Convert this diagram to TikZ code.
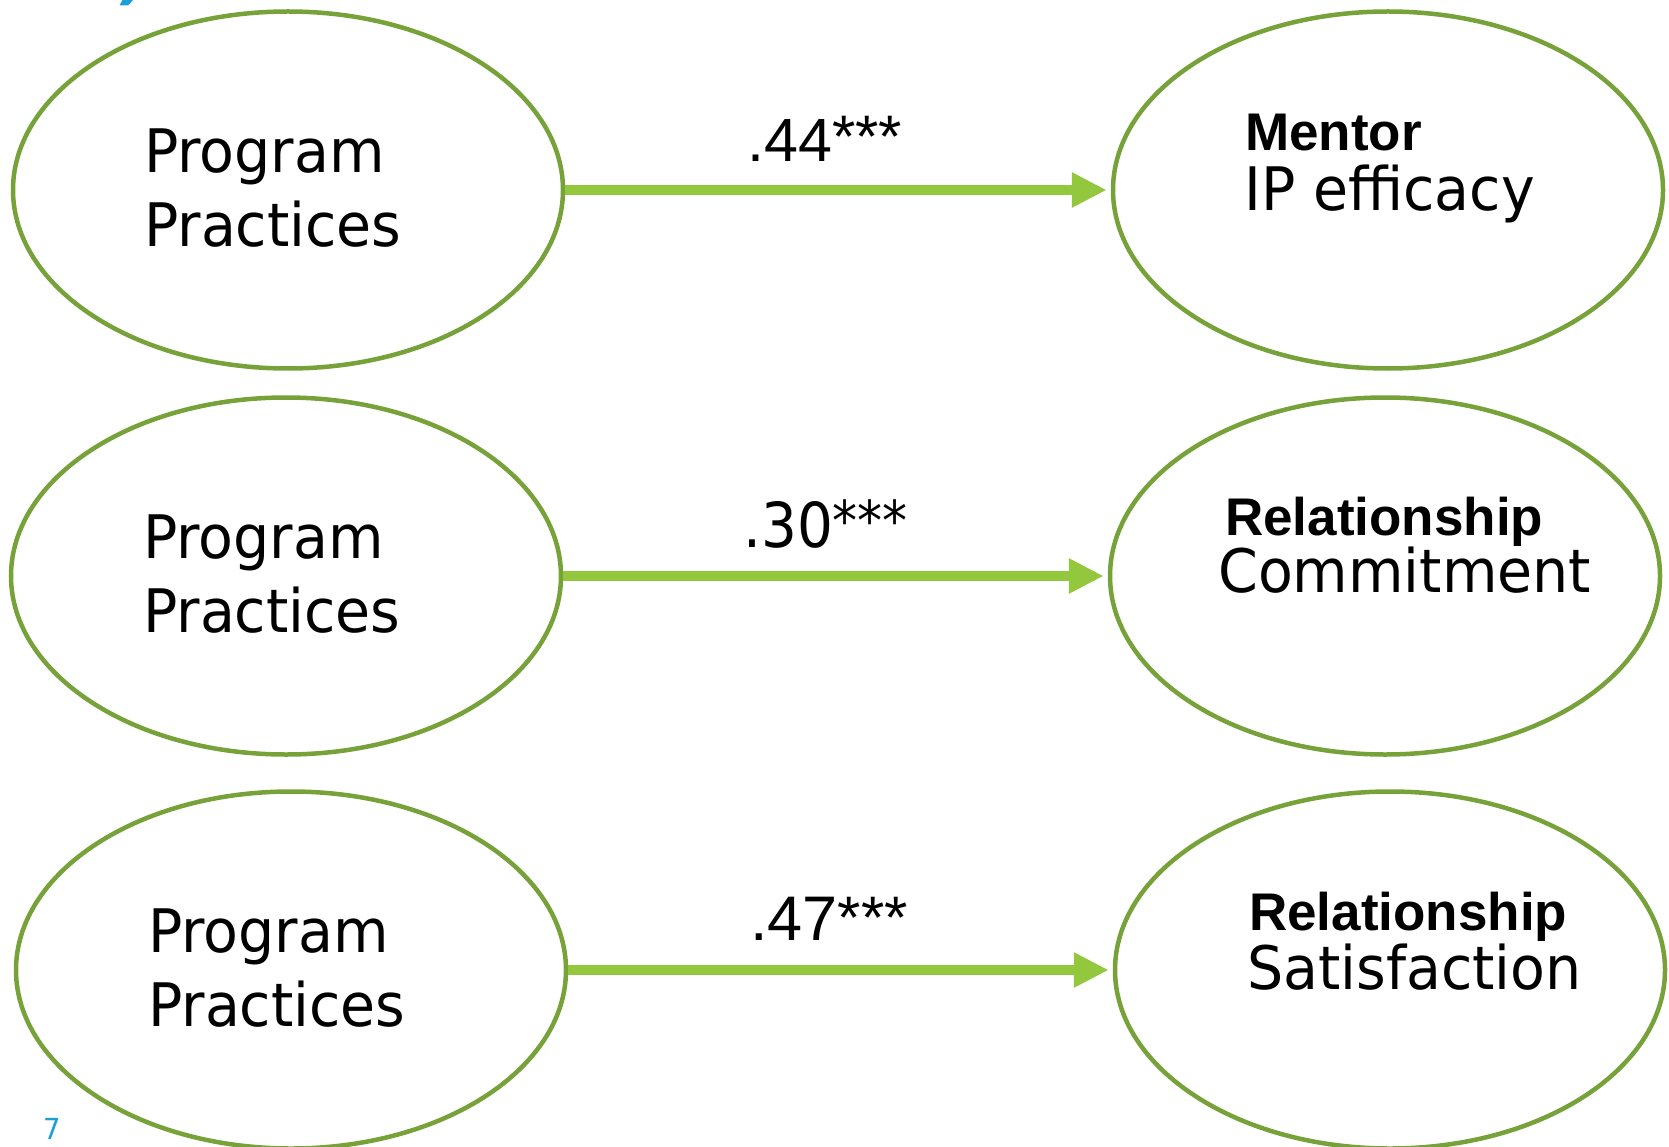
\documentclass[tikz,border=0pt]{standalone}
\usepackage{fontspec}
\setmainfont{DejaVu Sans}
\newfontfamily\tah[FakeStretch=0.95]{DejaVu Sans}
\newfontfamily\tahc[FakeStretch=0.91]{DejaVu Sans}
\newfontfamily\ari{Liberation Sans}
\usetikzlibrary{shapes.geometric,arrows.meta}
\definecolor{ellgreen}{HTML}{77A23A}
\definecolor{arrgreen}{HTML}{93C83E}
\definecolor{pageblue}{HTML}{1A9FD6}
\begin{document}
\begin{tikzpicture}[x=1pt,y=-1pt,
  oval/.style={ellipse, draw=ellgreen, line width=4.5pt, minimum width=550pt, minimum height=357pt, inner sep=0pt},
  plainlab/.style={anchor=base west, inner sep=0pt, font=\tah\fontsize{60}{60}\selectfont},
  boldlab/.style={anchor=base west, inner sep=0pt, font=\ari\bfseries\fontsize{53}{53}\selectfont},
  link/.style={draw=arrgreen, line width=10pt, -{Triangle[length=35pt,width=33pt]}, shorten >=4pt},
  coef/.style={anchor=base west, inner sep=0pt}]
\useasboundingbox (0,0) rectangle (1669,1147);

% blue fragment at the top
\fill[pageblue] (123,-1) -- (134,-1) -- (128,5.5) -- (119.5,5.5) -- cycle;

% ellipses
\node[oval] (A1) at (288,190) {};
\node[oval] (B1) at (1388,190) {};
\node[oval] (A2) at (286,576) {};
\node[oval] (B2) at (1385,576) {};
\node[oval] (A3) at (291,970) {};
\node[oval] (B3) at (1390,970) {};

% connectors
\draw[link] (A1.east) -- (B1.west);
\draw[link] (A2.east) -- (B2.west);
\draw[link] (A3.east) -- (B3.west);

% left texts
\node[plainlab] (a1l1) at (144,173) {Program};
\node[plainlab] (a1l2) at (144,247) {Practices};
\node[plainlab] (a2l1) at (143,558) {Program};
\node[plainlab] (a2l2) at (143,632) {Practices};
\node[plainlab] (a3l1) at (148,952) {Program};
\node[plainlab] (a3l2) at (148,1026) {Practices};

% right texts
\node[boldlab] (b1l1) at (1245,151) {Mentor};
\node[plainlab] (b1l2) at (1244,211) {IP efficacy};
\node[boldlab] (b2l1) at (1225,535) {Relationship};
\node[plainlab] (b2l2) at (1218,592) {Commitment};
\node[boldlab] (b3l1) at (1249,930) {Relationship};
\node[plainlab] (b3l2) at (1247,989) {Satisfaction};

% coefficients
\node[coef, font=\ari\fontsize{61}{61}\selectfont] (c1) at (747,162) {.44\raisebox{4pt}{\fontsize{60}{60}\selectfont ***}};
\node[coef, font=\tahc\fontsize{62}{62}\selectfont] (c2) at (743,547) {.30\raisebox{7pt}{\fontsize{55}{55}\selectfont ***}};
\node[coef, font=\ari\fontsize{63}{63}\selectfont] (c3) at (750,940) {.47\raisebox{2pt}{\fontsize{60}{60}\selectfont ***}};

% page number
\node[coef, font=\tah\fontsize{29}{29}\selectfont, text=pageblue] (pg) at (43,1139) {7};
\end{tikzpicture}
\end{document}
